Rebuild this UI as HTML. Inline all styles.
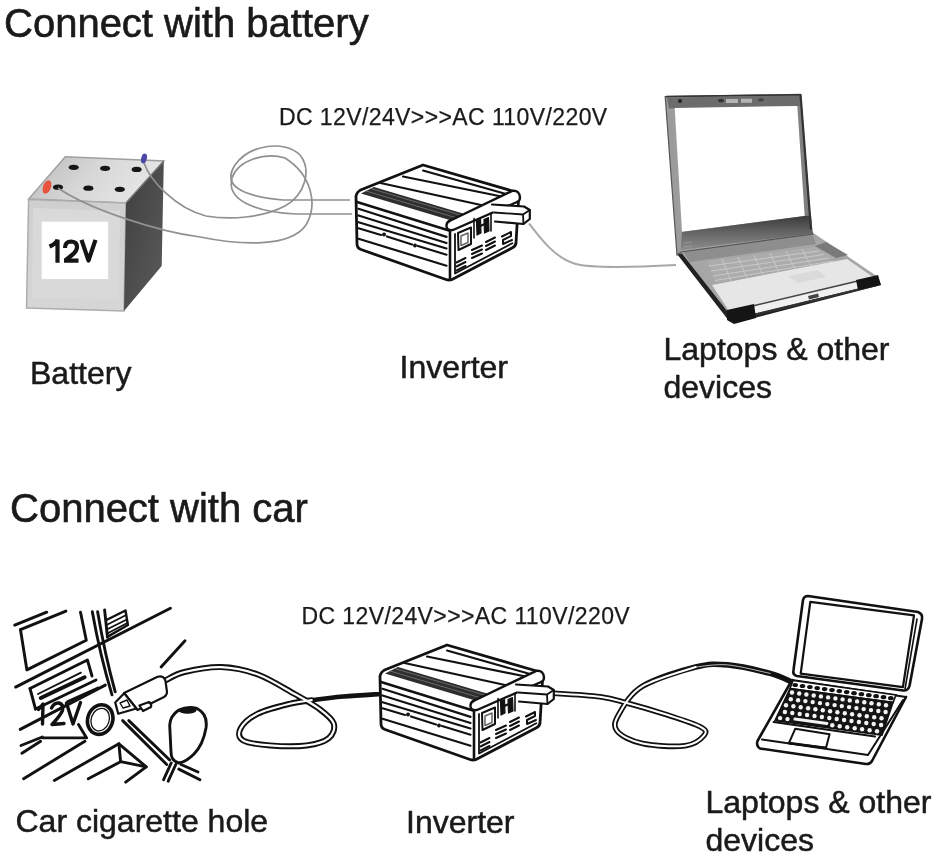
<!DOCTYPE html>
<html><head><meta charset="utf-8">
<style>
html,body{margin:0;padding:0;background:#fff;width:940px;height:858px;overflow:hidden}
svg{position:absolute;left:0;top:0;display:block;will-change:transform}
text{font-family:"Liberation Sans",sans-serif;fill:#1a1a1a}
.t{stroke:#1a1a1a;stroke-width:0.5}
.h{stroke:#1a1a1a;stroke-width:0.6}
.dc{stroke:#1a1a1a;stroke-width:0.25}
</style></head><body>
<svg width="940" height="858" viewBox="0 0 940 858">
<defs>
<linearGradient id="gtop" x1="0" y1="0" x2="1" y2="0.3">
<stop offset="0" stop-color="#b9b9b9"/><stop offset="0.5" stop-color="#d6d6d6"/><stop offset="1" stop-color="#e6e6e6"/>
</linearGradient>
</defs>
<rect width="940" height="858" fill="#fff"/>

<!-- TEXT -->
<text class="h" x="4" y="37" font-size="40">Connect with battery</text>
<text x="279" y="124.7" font-size="23" letter-spacing="0.4" class="dc">DC 12V/24V&gt;&gt;&gt;AC 110V/220V</text>
<g font-size="32" class="t">
<text transform="translate(30,383.5) scale(1.0,1)">Battery</text>
<text transform="translate(399.5,377.6) scale(1.0,1)">Inverter</text>
<text transform="translate(663.5,359.8) scale(1.0,1)">Laptops &amp; other</text>
<text transform="translate(663.5,397.6) scale(1.0,1)">devices</text>
<text transform="translate(15.5,832.2) scale(1.0,1)">Car cigarette hole</text>
<text transform="translate(406,832.6) scale(1.0,1)">Inverter</text>
<text transform="translate(705.5,813) scale(1.0,1)">Laptops &amp; other</text>
<text transform="translate(705.5,851) scale(1.0,1)">devices</text>
</g>
<text class="h" x="10" y="522.2" font-size="40">Connect with car</text>
<text x="301.5" y="623.5" font-size="23" letter-spacing="0.4" class="dc">DC 12V/24V&gt;&gt;&gt;AC 110V/220V</text>

<!-- BATTERY -->
<g id="battery">
<linearGradient id="gfront" x1="0" y1="0" x2="0" y2="1">
<stop offset="0" stop-color="#cfcfcf"/><stop offset="1" stop-color="#d6d6d6"/>
</linearGradient>
<linearGradient id="gright" x1="0" y1="0" x2="1" y2="1">
<stop offset="0" stop-color="#3e3e3e"/><stop offset="0.6" stop-color="#505050"/><stop offset="1" stop-color="#5a5a5a"/>
</linearGradient>
<polygon points="65.3,156.8 163.8,161 126,203 28.6,199" fill="url(#gtop)" stroke="#a0a0a0" stroke-width="1.5"/>
<polygon points="28.6,199.5 126,203 124,311 26.5,308" fill="url(#gfront)" stroke="#adadad" stroke-width="1.5"/>
<polygon points="33,208 120,211 119,300 32,298" fill="#d9d9d9"/>
<polygon points="126,203 163.8,161 161.7,266 124,311" fill="url(#gright)"/>
<path d="M126,203 L163.8,161" stroke="#777" stroke-width="1.2"/>
<rect x="41.7" y="221.7" width="66.5" height="57.4" fill="#fff"/>
<g fill="none" stroke="#151515" stroke-width="4.2" stroke-linejoin="miter">
<path d="M49.5,246.5 Q55.5,244 57.5,239.8 L57.5,262.7"/>
<path d="M65,248 Q65,241.5 71.3,241.5 Q77,241.8 77,247 Q77,251 72,255 L65.5,260.2 Q64.5,260.7 64,260.7 L78.5,260.7"/>
<path d="M81.5,239.8 L88.5,260.5 L95.5,239.8" stroke-linejoin="round"/>
</g>
<g fill="#151515">
<ellipse cx="73.7" cy="167.3" rx="5" ry="2.6"/>
<ellipse cx="105.1" cy="168.3" rx="5" ry="2.6"/>
<ellipse cx="136.6" cy="169.4" rx="5" ry="2.6"/>
<ellipse cx="58" cy="187.2" rx="5" ry="2.6"/>
<ellipse cx="88.4" cy="188.2" rx="5" ry="2.6"/>
<ellipse cx="119.8" cy="189.3" rx="5" ry="2.6"/>
</g>
<ellipse cx="47" cy="187" rx="4" ry="7" fill="#e8533f" transform="rotate(20 47 187)"/>
<ellipse cx="144" cy="158.5" rx="2.8" ry="5" fill="#4b47a8" transform="rotate(15 144 158.5)"/>
</g>

<!-- WIRES top battery->inverter -->
<g fill="none" stroke="#909090" stroke-width="1.7">
<path d="M144,163 C150,180 175,208 206,216 C230,220 262,218 285,206 C305,195 312,170 300,155 C285,140 250,144 235,165 C222,185 240,196 283,200 L350,200"/>
<path d="M58,188 C90,210 160,232 200,237 C240,245 290,248 306,225 C318,205 312,175 285,158 C265,152 238,160 232,178 C226,200 255,212 296,214 L352,214"/>
</g>
<!-- wire inverter->laptop top -->
<path d="M529,223.5 C540,238 555,258 575,263.7 C590,268 620,268 676,265" fill="none" stroke="#a8a8a8" stroke-width="2"/>

<!-- INVERTER symbol -->
<g id="inv" fill="none" stroke="#111" stroke-width="2.4" stroke-linejoin="round" stroke-linecap="round">
<path d="M356,196 Q357,191 363,189 L423,165 L511,190.5 Q519,193 518.5,200 L516,243 Q515.5,246.5 512,248 L452,279.5 Q449,280.5 446,279.5 L361,249.5 Q357,248 357,244 Z" fill="#fff" stroke-width="2.8"/>
<!-- top face band -->
<path d="M361,193.5 L374,187 L463,213.5 L453,221 Z" fill="#2e2e2e" stroke="none"/>
<path d="M366,191 L457,218 M371,188.6 L460,215" stroke="#777" stroke-width="0.8"/>
<path d="M380.5,183 L481,205" stroke-width="2.2"/>
<path d="M403,176.5 L501.5,196.5" stroke-width="2.2"/>
<path d="M423,170.5 L506,194" stroke-width="2"/>
<!-- lip line on left face -->
<path d="M357,202 L449,230.5" stroke-width="2.4"/>
<!-- end roller bar -->
<path d="M450.5,220.5 L512.3,190.8 Q519.5,190 520,197.5 Q520,201 517,202 L453,230 Q446,231 446.5,225 Q447,221.5 450.5,220.5 Z" fill="#fff" stroke-width="2.4"/>
<!-- left face ribs -->
<path d="M358.5,208.8 L446.5,236.9 M358.5,215.5 L446.5,243 M358.5,222.2 L446.5,248.5 M358.5,238.8 L446.5,265.7" stroke-width="2.2"/>
<path d="M358.5,228.3 L381,235 M387,236.5 L412,244.5 M418,246 L446.5,254.7" stroke-width="2.2"/>
<circle cx="384" cy="234.5" r="2" fill="#111" stroke="none"/>
<circle cx="415" cy="245.5" r="2" fill="#111" stroke="none"/>
<!-- front vertical edge -->
<path d="M450,231 L450,278" stroke-width="2.6"/>
<path d="M455,234 L455,273.5 L512.3,243.3" stroke-width="1.8"/>
<!-- socket -->
<path d="M458,233 L471,227.5 L471,244 L458.5,250 Z" stroke-width="2"/>
<path d="M461,236 L468,233 L468,242.5 L461,245.5 Z" stroke="#666" stroke-width="1.5"/>
<path d="M476.5,221 L480.5,219.5 L481,233 L477,235 Z M484,219.5 L488.5,217.5 L489,231 L484.5,233 Z" fill="#111" stroke="#111" stroke-width="1.2"/>
<path d="M479,226.5 L486,223.5" stroke-width="2.2"/>
<path d="M474,218.5 L474,238 M491,213 L491,231" stroke-width="1.6"/>
<!-- vents -->
<path d="M456.5,262.5 L465.5,258 M456.5,266.5 L465.5,262 M456.5,270.5 L465.5,266" stroke-width="2"/>
<path d="M472,250 L482,245.5 M472,254 L482,249.5 M472,258 L482,253.5" stroke-width="2"/>
<path d="M486,242 L495,237.5 M486,246 L495,241.5 M486,250 L495,245.5" stroke-width="2"/>
<path d="M502,236.5 L511,232 L511,236 L503,240 L503,244 L512,240" stroke-width="2"/>
<!-- plug -->
<path d="M492,204.5 L524,206.5 L529.8,210 L529.8,219 L523.5,224 L495,221.5" fill="#fff" stroke-width="2.2"/>
<path d="M494,212.5 L523,214.5 L529.8,210 M523,214.5 L523.5,224" stroke-width="1.8"/>
<path d="M517,224 L517,232" stroke-width="1.6"/>
</g>

<!-- LAPTOP top -->
<g id="laptop1">
<linearGradient id="lidg" x1="0" y1="0" x2="1" y2="0">
<stop offset="0" stop-color="#9a9a9a"/><stop offset="0.5" stop-color="#a8a8a8"/><stop offset="1" stop-color="#7a7a7a"/>
</linearGradient>
<linearGradient id="hingeg" x1="0" y1="0" x2="0" y2="1">
<stop offset="0" stop-color="#3a3a3a"/><stop offset="0.55" stop-color="#6a6a6a"/><stop offset="1" stop-color="#8c8c8c"/>
</linearGradient>
<!-- base left side & front edge dark -->
<polygon points="677,254 683,253 733,313 877,277 881,285 735,323 729,321" fill="#222"/>
<!-- deck -->
<polygon points="680,251 812,232 878,277 731,316" fill="#a6a6a6"/>
<polygon points="681,249 812,232 816,244 690,262" fill="#8e8e8e"/>
<!-- keyboard area -->
<polygon points="707,261 815,247 836,258 716,283" fill="#acacac"/>
<g stroke="#c8c8c8" stroke-width="1">
<path d="M709,266 L819,251 M711,271 L824,254.5 M713,276 L829,258 M715,280.5 L833,261"/>
<path d="M722,259 L731,281 M738,257 L747,278 M754,255 L763,275 M770,253 L779,272 M786,251 L795,269 M802,249 L811,266"/>
</g>
<polygon points="815,246 836,258 848,255 826,242" fill="#7a7a7a"/>
<!-- palm rest -->
<polygon points="712,285 847,259 873,277 729,311" fill="#e6e6e6"/>
<polygon points="788,276 818,270 826,277 798,283" fill="#dadada"/>
<!-- front face -->
<polygon points="729,311 873,277 877,284 732,319" fill="#f0f0f0"/>
<path d="M740,309 L862,280" stroke="#444" stroke-width="1.6"/>
<path d="M735,319.5 L877,285" stroke="#333" stroke-width="2"/>
<polygon points="727,310 754,304 756,318 734,324 727,320" fill="#151515"/>
<polygon points="856,280 878,275 881,285 858,290" fill="#151515"/>
<polygon points="808,296 818,293.5 819,297 809,299.5" fill="#444"/>
<!-- lid -->
<polygon points="665.2,96.5 800.5,94.4 811,229.7 812.8,234 681,252 677,255" fill="url(#lidg)" stroke="#555" stroke-width="1.2"/>
<polygon points="667,97.5 800,95.5 801.5,106 669,108.5" fill="#6c6c6c"/>
<path d="M666,96.5 L801,94.8" stroke="#333" stroke-width="1.6"/>
<rect x="726" y="99" width="12" height="4" fill="#b4b4b4"/>
<rect x="741" y="98.8" width="11" height="4" fill="#b4b4b4"/>
<ellipse cx="680" cy="101" rx="2" ry="2" fill="#222"/>
<ellipse cx="721" cy="100.6" rx="3" ry="1.8" fill="#333"/>
<ellipse cx="761" cy="99.8" rx="3" ry="1.6" fill="#444"/>
<polygon points="674.7,108 797.3,106 804.7,216 682,231.8" fill="#fff"/>
<polygon points="682,232 804.7,216 811,215.5 812.8,233.4 680.5,250" fill="url(#hingeg)"/>
<path d="M800.5,94.4 L811,229.7" stroke="#333" stroke-width="2.2" fill="none"/>
<path d="M684,243 L692,242 M684,247 L692,246" stroke="#999" stroke-width="1"/>
</g>

<!-- CAR DASH -->
<g fill="none" stroke="#111" stroke-width="2.9" stroke-linecap="round" stroke-linejoin="round">
<path d="M14.7,625.1 L46.7,612.2"/>
<path d="M20.5,629.7 L65.9,611.1"/>
<path d="M20.5,629.7 L26.9,669.9 L86.3,640.2 L80.5,612.2"/>
<path d="M15.6,687.1 L170.4,608.2"/>
<path d="M92.3,611.7 Q100,655 112,694.8"/>
<path d="M97.6,611.7 Q105,655 115.2,691.8"/>
<path d="M104.6,609.9 L107.5,637.3"/>
<path d="M108.6,636.1 L127.9,625 L125.5,610.5 L106.9,619.8" stroke-width="2.4"/>
<path d="M107.5,624.5 L126.2,615 M107.8,629 L126.8,619.5 M108.2,633 L127.3,623" stroke-width="1.8"/>
<path d="M161.1,667 L185,640.8"/>
<!-- slot box -->
<path d="M30,688.5 L87.4,660 L92,676"/>
<path d="M30,688.5 L35.5,709"/>
<path d="M38,694 L80.9,672.6" stroke-width="1.8"/>
<path d="M40.8,698 L84.6,677.3" stroke-width="4"/>
<path d="M35.5,709 L96,680"/>
<path d="M67.8,701.5 L98,688"/>
<!-- lines lower left -->
<path d="M20.2,729.4 L105.3,685.1"/>
<path d="M21,745.5 L42.3,737"/>
<path d="M42.3,737.9 L86.6,737.9 L78.5,724.5"/>
<path d="M21.9,753.2 L40.6,741.3"/>
<path d="M23.6,778.7 L84.9,741.3"/>
<path d="M54.3,780.4 L118.9,743.8 L146.2,766.8 L125.7,782.1"/>
<path d="M118.9,743.8 L120.6,761.7 L146.2,766.8"/>
<path d="M88.3,778.7 L120.6,761.7"/>
<!-- diagonal double -->
<path d="M122.7,720.6 L166.7,764.5"/>
<path d="M128.8,720.6 L169.7,760"/>
<path d="M178.8,769.1 L200,779.7"/>
<path d="M181,764.5 L198,772"/>
<!-- gear knob -->
<path d="M178.8,710 Q188,706 197,708.5 Q208,714 206,728 Q203,745 194,754 Q186,762 178.8,763 Q171,761 171,752 L169.7,725.2 Q170,716 178.8,710 Z" fill="#fff"/>
<ellipse cx="187.5" cy="710.5" rx="9" ry="3.2" fill="#111" stroke="none"/>
<path d="M171.2,763 L163.6,779.7"/>
<path d="M175.8,764.5 L168.2,781.2"/>
<!-- ring -->
<ellipse cx="100.2" cy="719.6" rx="12.5" ry="15" transform="rotate(18 100.2 719.6)" stroke-width="3.6"/>
<ellipse cx="100.2" cy="719.6" rx="9" ry="11.5" transform="rotate(18 100.2 719.6)" stroke-width="1.3"/>
</g>
<!-- 12V car text -->
<g fill="none" stroke="#111" stroke-width="3.4" stroke-linecap="round" stroke-linejoin="round">
<path d="M38.5,709.5 L43,704 L42.5,724"/>
<path d="M51.5,708 Q54,702.5 59,703 Q64,704.5 62.5,710.5 Q60,716 52,724.5 L64,723.5"/>
<path d="M66.5,703 L73,724 L80.5,702.5"/>
</g>
<!-- CORDS bottom -->
<g fill="none" stroke-linecap="round" stroke-linejoin="round">
<path d="M289.7,703.8 C293.4,703.2 302.7,701.4 311.7,700.2 C320.7,699.0 332.1,697.5 343.5,696.5 C354.9,695.5 374.1,694.4 380.2,694.0" stroke="#111" stroke-width="4.6"/>
<path d="M164.9,680.6 C168.2,679.2 175.1,674.2 184.5,672.0 C193.9,669.8 209.0,666.7 221.2,667.1 C233.4,667.5 245.7,670.0 257.9,674.5 C270.1,679.0 284.4,688.3 294.6,694.0 C304.8,699.7 312.5,703.8 319.0,708.7 C325.5,713.6 332.1,718.5 333.7,723.4 C335.3,728.3 333.3,734.4 328.8,738.1 C324.3,741.8 316.6,744.2 306.8,745.4 C297.0,746.6 280.7,746.2 270.1,745.4 C259.5,744.6 248.1,743.4 243.2,740.5 C238.3,737.6 238.2,732.8 240.7,728.3 C243.1,723.8 249.7,717.7 257.9,713.6 C266.1,709.5 280.7,706.0 289.7,703.8 C298.7,701.6 308.0,700.8 311.7,700.2" stroke="#111" stroke-width="6"/>
<path d="M164.9,680.6 C168.2,679.2 175.1,674.2 184.5,672.0 C193.9,669.8 209.0,666.7 221.2,667.1 C233.4,667.5 245.7,670.0 257.9,674.5 C270.1,679.0 284.4,688.3 294.6,694.0 C304.8,699.7 312.5,703.8 319.0,708.7 C325.5,713.6 332.1,718.5 333.7,723.4 C335.3,728.3 333.3,734.4 328.8,738.1 C324.3,741.8 316.6,744.2 306.8,745.4 C297.0,746.6 280.7,746.2 270.1,745.4 C259.5,744.6 248.1,743.4 243.2,740.5 C238.3,737.6 238.2,732.8 240.7,728.3 C243.1,723.8 249.7,717.7 257.9,713.6 C266.1,709.5 280.7,706.0 289.7,703.8 C298.7,701.6 308.0,700.8 311.7,700.2" stroke="#fff" stroke-width="2.2"/>
<path d="M548.0,693.0 C556.7,693.6 586.7,695.1 600.0,696.8 C613.3,698.5 617.1,700.4 627.7,703.2 C638.3,706.0 651.8,709.9 663.8,713.8 C675.8,717.7 693.2,723.0 700.0,726.6 C706.8,730.2 706.8,731.9 704.3,735.1 C701.8,738.3 695.4,744.3 685.1,745.7 C674.8,747.1 654.0,746.1 642.6,743.6 C631.2,741.1 620.9,735.9 617.0,730.9 C613.1,725.9 614.8,721.2 619.1,713.8 C623.4,706.3 629.8,694.0 642.6,686.2 C655.4,678.4 681.5,670.5 695.7,667.0 C709.9,663.5 715.3,663.8 727.7,664.9 C740.1,666.0 759.6,670.6 770.2,673.4 C780.8,676.2 788.0,680.5 791.5,681.9" stroke="#111" stroke-width="5.6"/>
<path d="M548.0,693.0 C556.7,693.6 586.7,695.1 600.0,696.8 C613.3,698.5 617.1,700.4 627.7,703.2 C638.3,706.0 651.8,709.9 663.8,713.8 C675.8,717.7 693.2,723.0 700.0,726.6 C706.8,730.2 706.8,731.9 704.3,735.1 C701.8,738.3 695.4,744.3 685.1,745.7 C674.8,747.1 654.0,746.1 642.6,743.6 C631.2,741.1 620.9,735.9 617.0,730.9 C613.1,725.9 614.8,721.2 619.1,713.8 C623.4,706.3 629.8,694.0 642.6,686.2 C655.4,678.4 686.9,670.2 695.7,667.0" stroke="#fff" stroke-width="2"/>
<path d="M695.7,667.0 C701.0,666.6 715.3,663.8 727.7,664.9 C740.1,666.0 763.1,672.0 770.2,673.4" stroke="#fff" stroke-width="1" opacity="0.7"/>
</g>
<!-- car plug -->
<g fill="#fff" stroke="#111" stroke-width="2.2" stroke-linejoin="round" stroke-linecap="round">
<path d="M124,693 L157.6,676.7 Q164,675 165.5,681 L167,692 Q167,696 162,698 L137.5,710 Z"/>
<path d="M139.4,705.5 L149,702 Q152,704 151,707 L143,711 Z"/>
<path d="M115.2,702.4 L124.2,693.3 L136.4,708.5 L118.2,713.8 Z"/>
<path d="M120,703 L127,700 L130,706 L123,708 Z" stroke-width="1.4"/>
</g>

<!-- INVERTER bottom -->
<use href="#inv" x="24" y="480"/>

<!-- LAPTOP bottom -->
<g fill="none" stroke="#111" stroke-width="2.4" stroke-linejoin="round" stroke-linecap="round">
<!-- lid -->
<path d="M808,596 L918,612 Q923,614 922,619 L909.5,686 Q908,691 903,690.5 L797,676 Q792.5,675 793.5,670 L803,600 Q804,596 808,596 Z" fill="#fff" stroke-width="2.6"/>
<path d="M810.3,601.8 L914,615.3 L902.9,687.1 L800.7,673.6 Z" stroke-width="2.2"/>
<path d="M917,619 L905,689" stroke-width="1.6"/>
<!-- base -->
<path d="M792,680 L757.5,741 Q756,746 760,748.5 L866,764 Q870,764.5 872,761 L906,697" stroke-width="2.6" fill="#fff"/>
<path d="M792,680 L906,697" stroke-width="2.2"/>
<path d="M762,739.5 L868,755 L903,700" stroke-width="2"/>
<path d="M773.5,722 L875,736.5" stroke-width="2"/>
<!-- trackpad -->
<path d="M795.2,728.8 L829.6,734.2 L826,747.8 L788.9,743.2 Z" stroke-width="2"/>
<path d="M789,743 L826,748" stroke-width="2.6"/>
</g>
<g>
<polygon points="793,680.5 896,695 893,702.5 790,688.5" fill="#fff" stroke="#111" stroke-width="1.6"/>
<ellipse cx="795.2" cy="685.0" rx="2.8" ry="2.1" fill="#111"/>
<ellipse cx="802.5" cy="686.0" rx="2.8" ry="2.1" fill="#111"/>
<ellipse cx="809.9" cy="687.0" rx="2.8" ry="2.1" fill="#111"/>
<ellipse cx="817.2" cy="688.1" rx="2.8" ry="2.1" fill="#111"/>
<ellipse cx="824.6" cy="689.1" rx="2.8" ry="2.1" fill="#111"/>
<ellipse cx="832.0" cy="690.1" rx="2.8" ry="2.1" fill="#111"/>
<ellipse cx="839.3" cy="691.1" rx="2.8" ry="2.1" fill="#111"/>
<ellipse cx="846.7" cy="692.1" rx="2.8" ry="2.1" fill="#111"/>
<ellipse cx="854.0" cy="693.2" rx="2.8" ry="2.1" fill="#111"/>
<ellipse cx="861.4" cy="694.2" rx="2.8" ry="2.1" fill="#111"/>
<ellipse cx="868.8" cy="695.2" rx="2.8" ry="2.1" fill="#111"/>
<ellipse cx="876.1" cy="696.2" rx="2.8" ry="2.1" fill="#111"/>
<ellipse cx="883.5" cy="697.2" rx="2.8" ry="2.1" fill="#111"/>
<ellipse cx="890.8" cy="698.2" rx="2.8" ry="2.1" fill="#111"/>
<polygon points="790,688.5 893,702.5 882,735 775,720.5" fill="#151515" stroke="#111" stroke-width="1.6"/>
<circle cx="792.0" cy="692.5" r="2.2" fill="#f4f4f4"/>
<circle cx="799.2" cy="693.5" r="2.2" fill="#f4f4f4"/>
<circle cx="806.4" cy="694.5" r="2.2" fill="#f4f4f4"/>
<circle cx="813.7" cy="695.5" r="2.2" fill="#f4f4f4"/>
<circle cx="820.9" cy="696.4" r="2.2" fill="#f4f4f4"/>
<circle cx="828.1" cy="697.4" r="2.2" fill="#f4f4f4"/>
<circle cx="835.4" cy="698.4" r="2.2" fill="#f4f4f4"/>
<circle cx="842.6" cy="699.4" r="2.2" fill="#f4f4f4"/>
<circle cx="849.8" cy="700.4" r="2.2" fill="#f4f4f4"/>
<circle cx="857.1" cy="701.4" r="2.2" fill="#f4f4f4"/>
<circle cx="864.3" cy="702.3" r="2.2" fill="#f4f4f4"/>
<circle cx="871.5" cy="703.3" r="2.2" fill="#f4f4f4"/>
<circle cx="878.8" cy="704.3" r="2.2" fill="#f4f4f4"/>
<circle cx="886.0" cy="705.3" r="2.2" fill="#f4f4f4"/>
<circle cx="790.8" cy="699.2" r="2.2" fill="#f4f4f4"/>
<circle cx="798.1" cy="700.2" r="2.2" fill="#f4f4f4"/>
<circle cx="805.4" cy="701.1" r="2.2" fill="#f4f4f4"/>
<circle cx="812.7" cy="702.1" r="2.2" fill="#f4f4f4"/>
<circle cx="820.0" cy="703.1" r="2.2" fill="#f4f4f4"/>
<circle cx="827.3" cy="704.1" r="2.2" fill="#f4f4f4"/>
<circle cx="834.6" cy="705.1" r="2.2" fill="#f4f4f4"/>
<circle cx="841.8" cy="706.1" r="2.2" fill="#f4f4f4"/>
<circle cx="849.1" cy="707.1" r="2.2" fill="#f4f4f4"/>
<circle cx="856.4" cy="708.1" r="2.2" fill="#f4f4f4"/>
<circle cx="863.7" cy="709.1" r="2.2" fill="#f4f4f4"/>
<circle cx="871.0" cy="710.1" r="2.2" fill="#f4f4f4"/>
<circle cx="878.3" cy="711.0" r="2.2" fill="#f4f4f4"/>
<circle cx="885.6" cy="712.0" r="2.2" fill="#f4f4f4"/>
<circle cx="786.0" cy="705.3" r="2.2" fill="#f4f4f4"/>
<circle cx="793.4" cy="706.3" r="2.2" fill="#f4f4f4"/>
<circle cx="800.7" cy="707.3" r="2.2" fill="#f4f4f4"/>
<circle cx="808.1" cy="708.3" r="2.2" fill="#f4f4f4"/>
<circle cx="815.4" cy="709.3" r="2.2" fill="#f4f4f4"/>
<circle cx="822.8" cy="710.3" r="2.2" fill="#f4f4f4"/>
<circle cx="830.1" cy="711.3" r="2.2" fill="#f4f4f4"/>
<circle cx="837.4" cy="712.3" r="2.2" fill="#f4f4f4"/>
<circle cx="844.8" cy="713.3" r="2.2" fill="#f4f4f4"/>
<circle cx="852.1" cy="714.3" r="2.2" fill="#f4f4f4"/>
<circle cx="859.5" cy="715.3" r="2.2" fill="#f4f4f4"/>
<circle cx="866.8" cy="716.3" r="2.2" fill="#f4f4f4"/>
<circle cx="874.2" cy="717.3" r="2.2" fill="#f4f4f4"/>
<circle cx="881.5" cy="718.3" r="2.2" fill="#f4f4f4"/>
<circle cx="784.9" cy="712.0" r="2.2" fill="#f4f4f4"/>
<circle cx="792.3" cy="713.0" r="2.2" fill="#f4f4f4"/>
<circle cx="799.7" cy="714.0" r="2.2" fill="#f4f4f4"/>
<circle cx="807.1" cy="715.0" r="2.2" fill="#f4f4f4"/>
<circle cx="814.5" cy="716.0" r="2.2" fill="#f4f4f4"/>
<circle cx="821.9" cy="717.0" r="2.2" fill="#f4f4f4"/>
<circle cx="829.3" cy="718.0" r="2.2" fill="#f4f4f4"/>
<circle cx="836.7" cy="719.0" r="2.2" fill="#f4f4f4"/>
<circle cx="844.1" cy="720.0" r="2.2" fill="#f4f4f4"/>
<circle cx="851.5" cy="721.0" r="2.2" fill="#f4f4f4"/>
<circle cx="858.9" cy="722.0" r="2.2" fill="#f4f4f4"/>
<circle cx="866.3" cy="723.0" r="2.2" fill="#f4f4f4"/>
<circle cx="873.7" cy="724.0" r="2.2" fill="#f4f4f4"/>
<circle cx="881.1" cy="725.0" r="2.2" fill="#f4f4f4"/>
<circle cx="780.1" cy="718.1" r="2.2" fill="#f4f4f4"/>
<circle cx="787.5" cy="719.1" r="2.2" fill="#f4f4f4"/>
<circle cx="832.3" cy="725.2" r="2.2" fill="#f4f4f4"/>
<circle cx="839.7" cy="726.2" r="2.2" fill="#f4f4f4"/>
<circle cx="847.2" cy="727.2" r="2.2" fill="#f4f4f4"/>
<circle cx="854.7" cy="728.2" r="2.2" fill="#f4f4f4"/>
<circle cx="862.1" cy="729.2" r="2.2" fill="#f4f4f4"/>
<circle cx="869.6" cy="730.3" r="2.2" fill="#f4f4f4"/>
<circle cx="877.0" cy="731.3" r="2.2" fill="#f4f4f4"/>
<path d="M794.9,719.1 L826.9,723.4" stroke="#f4f4f4" stroke-width="3" stroke-linecap="round"/>
</g>

</svg>
</body></html>
